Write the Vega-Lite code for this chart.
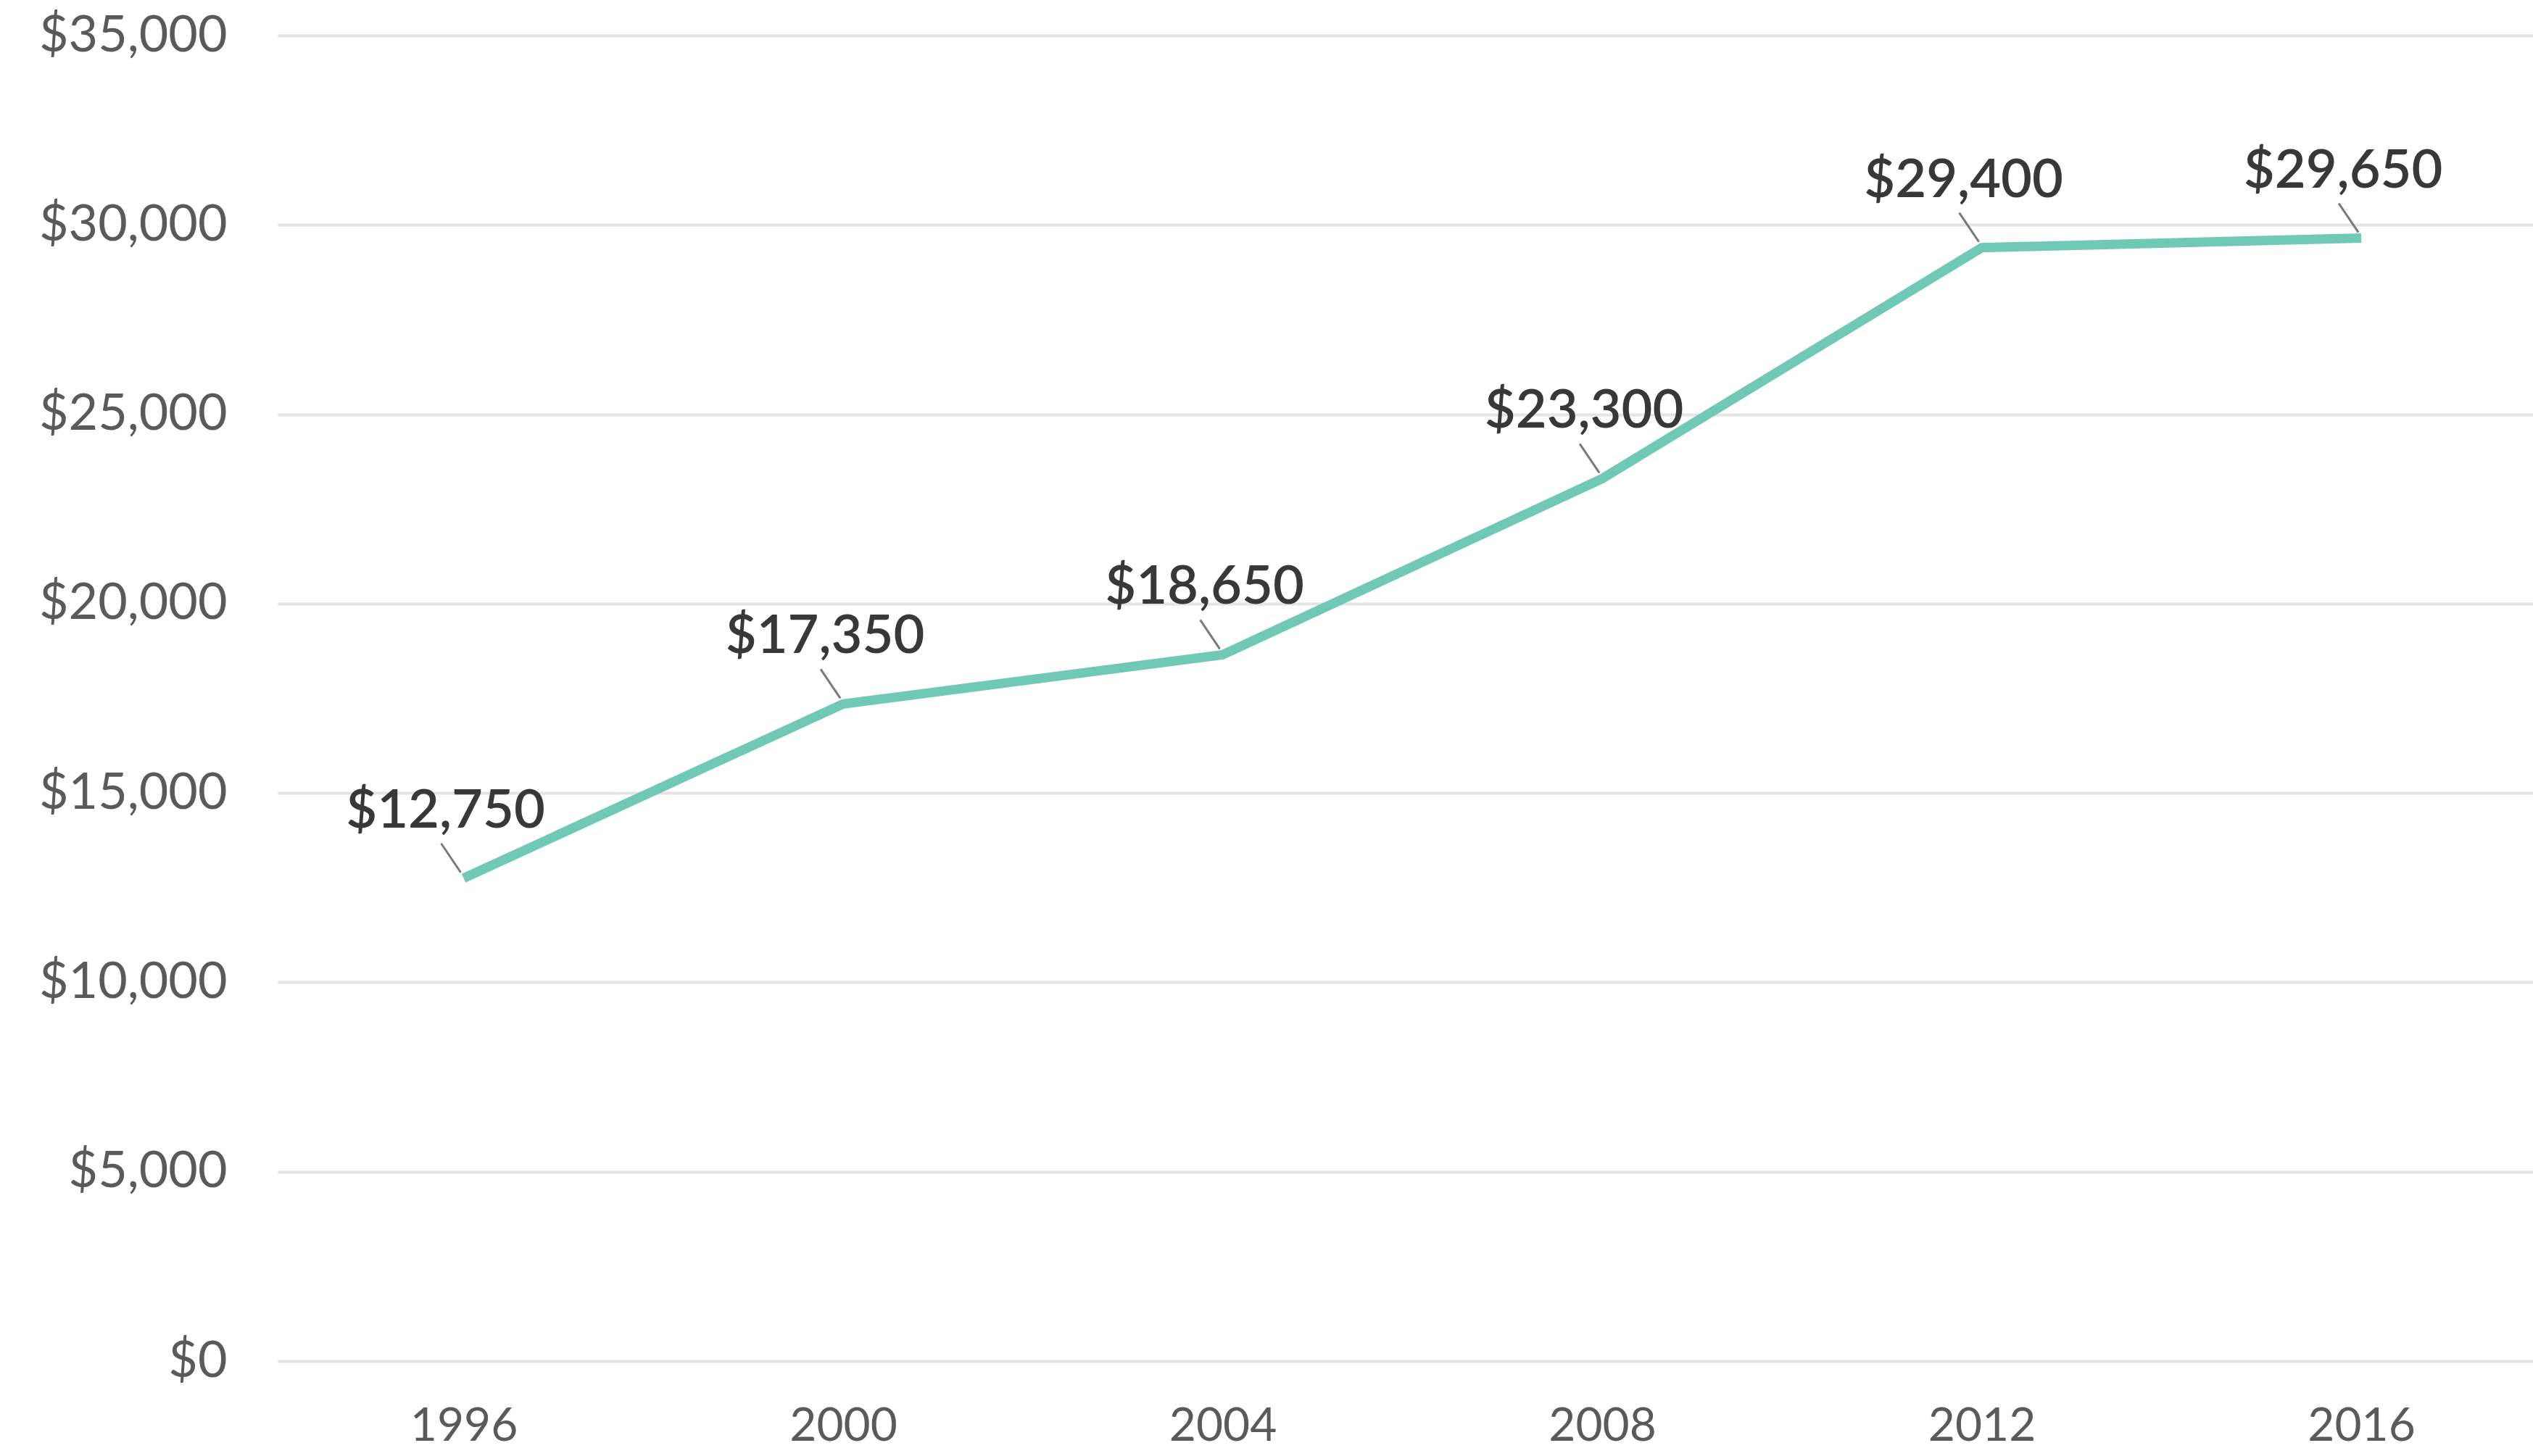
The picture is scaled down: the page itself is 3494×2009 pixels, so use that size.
{
  "$schema": "https://vega.github.io/schema/vega-lite/v6.json",
  "width": 3111,
  "height": 1829,
  "autosize": "none",
  "padding": {"left": 383, "top": 49, "right": 0, "bottom": 131},
  "background": "#ffffff",
  "config": {"view": {"stroke": null}, "font": "Lato"},
  "data": {
    "values": [
      {"year": 1996, "value": 12750},
      {"year": 2000, "value": 17350},
      {"year": 2004, "value": 18650},
      {"year": 2008, "value": 23300},
      {"year": 2012, "value": 29400},
      {"year": 2016, "value": 29650}
    ]
  },
  "encoding": {
    "x": {
      "field": "year",
      "type": "quantitative",
      "scale": {"domain": [1994.04, 2017.81], "nice": false, "zero": false},
      "axis": {
        "title": null,
        "values": [1996, 2000, 2004, 2008, 2012, 2016],
        "format": "d",
        "grid": false,
        "labelAngle": 0,
        "domain": false,
        "ticks": false,
        "labelFont": "Lato",
        "labelFontSize": 64,
        "labelColor": "#5a5a5a",
        "labelPadding": 58,
        "labelLimit": 0
      }
    },
    "y": {
      "field": "value",
      "type": "quantitative",
      "scale": {"domain": [0, 35000]},
      "axis": {
        "title": null,
        "values": [0, 5000, 10000, 15000, 20000, 25000, 30000, 35000],
        "format": "$,.0f",
        "domain": false,
        "ticks": false,
        "grid": true,
        "gridColor": "#e4e4e4",
        "gridWidth": 4,
        "labelFont": "Lato",
        "labelFontSize": 70,
        "labelColor": "#5a5a5a",
        "labelPadding": 70,
        "labelLimit": 0
      }
    }
  },
  "layer": [
    {"mark": {"type": "line", "color": "#70c9b4", "strokeWidth": 13}},
    {
      "mark": {
        "type": "point",
        "shape": "M -0.62 -0.96 L -0.08 -0.16",
        "size": 10000,
        "filled": false,
        "stroke": "#7a7a7a",
        "strokeWidth": 3,
        "opacity": 1
      }
    },
    {
      "mark": {
        "type": "text",
        "dx": -25,
        "dy": -70,
        "baseline": "alphabetic",
        "align": "center",
        "font": "Lato",
        "fontSize": 74,
        "fontWeight": 600,
        "color": "#383838"
      },
      "encoding": {"text": {"field": "value", "type": "quantitative", "format": "$,.0f"}}
    }
  ]
}
